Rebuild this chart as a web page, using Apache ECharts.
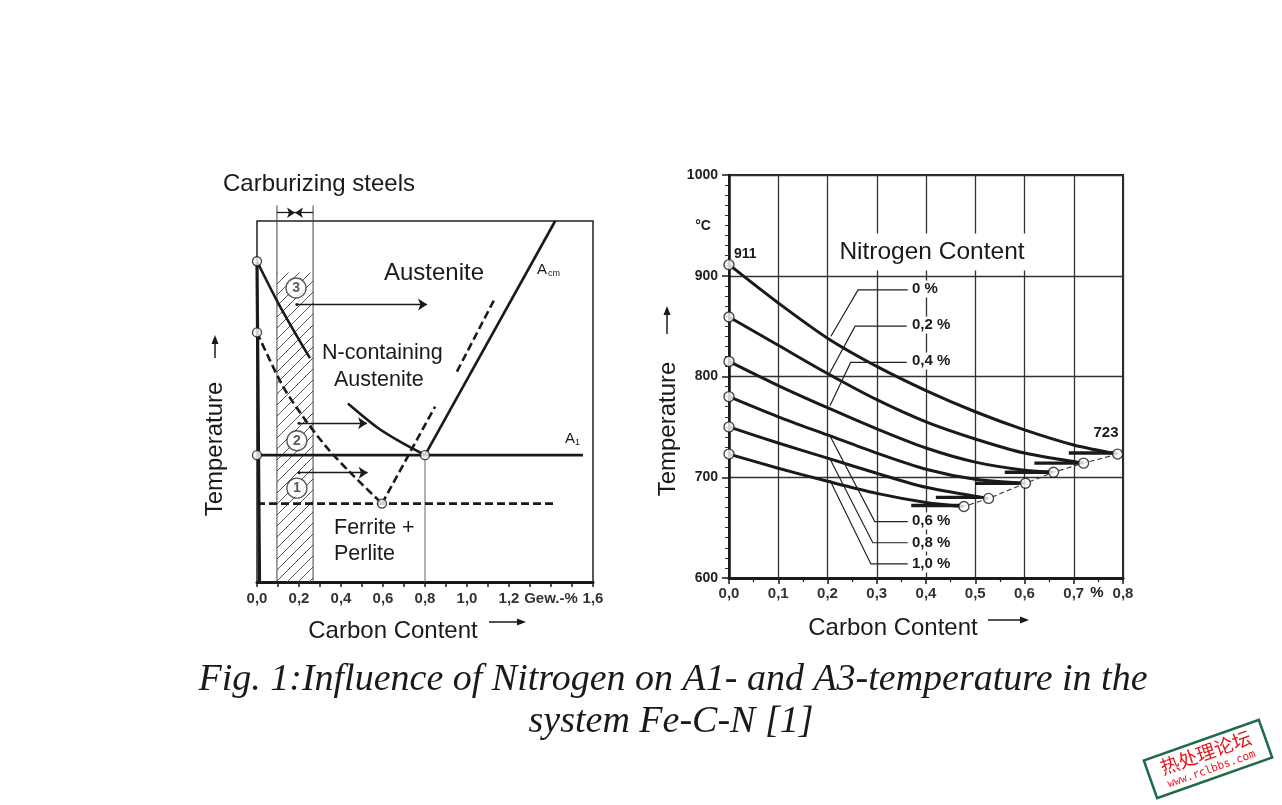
<!DOCTYPE html>
<html><head><meta charset="utf-8">
<script src="https://cdn.jsdelivr.net/npm/echarts@6/dist/echarts.min.js"></script>
<style>html,body{margin:0;padding:0;background:#fff}#c{width:1282px;height:805px}</style>
</head><body><div id="c"></div>
<script>
// ================= LEFT DIAGRAM (schematic Fe-C-N, carbon % vs temperature) =================
const leftXLabels = {0:'0,0',2:'0,2',4:'0,4',6:'0,6',8:'0,8',10:'1,0',12:'1,2',14:'Gew.-%',16:'1,6'};
const ferriteLine = [[0,911],[0.012,600]];
const a3Upper = [[0,911],[0.11,867],[0.252,817]];
const a3Lower = [[0.433,773],[0.571,750],[0.681,736],[0.8,723]];
const a3Nitrogen = [[0,842],[0.12,791],[0.22,760],[0.33,731],[0.44,707],[0.595,676]];
const acmNitrogenLower = [[0.595,676],[0.848,770]];
const acmNitrogenUpper = [[0.952,804],[1.133,875]];
const acmLine = [[0.8,723],[1.42,950]];
const a1Line = [[0,723],[1.552,723]];
const a1Nitrogen = [[0,676],[1.41,676]];
const eutectoidDrop = [[0.8,723],[0.8,600]];
const leftCircles = [[0,911],[0,842],[0,723],[0.8,723],[0.595,676]];
const carburizingRange = [0.095, 0.267];
const hatchTop = 900, rangeLineTop = 965, rangeArrowT = 958;
const numberMarks = [[0.186,885,'3'],[0.19,737,'2'],[0.19,691,'1']];
const shiftArrows = [[[0.19,869],[0.81,869]],[[0.2,754],[0.524,754]],[[0.2,706],[0.527,706]]];

// ================= RIGHT DIAGRAM (A3 / A1 vs nitrogen content) =================
const nitrogenLabels = ['0 %','0,2 %','0,4 %','0,6 %','0,8 %','1,0 %'];
const rightXLabels = ['0,0','0,1','0,2','0,3','0,4','0,5','0,6','0,7','0,8'];
const curveN00 = [[0,911],[0.1,873],[0.2,838],[0.3,810],[0.4,786],[0.5,765],[0.6,747],[0.7,732],[0.789,723]];
const curveN02 = [[0,859],[0.1,831],[0.2,803],[0.3,777],[0.4,755],[0.5,738],[0.6,724],[0.72,714]];
const curveN04 = [[0,815],[0.1,791],[0.2,769],[0.3,748],[0.4,729],[0.5,715],[0.6,707],[0.659,705]];
const curveN06 = [[0,780],[0.1,760],[0.2,742],[0.3,724],[0.4,708],[0.5,698],[0.602,694]];
const curveN08 = [[0,750],[0.1,734],[0.2,719],[0.3,704],[0.4,690],[0.527,679]];
const curveN10 = [[0,723],[0.1,709],[0.2,696],[0.3,684],[0.4,675],[0.477,671]];
const eutectoidPoints = [[0.789,723],[0.72,714],[0.659,705],[0.602,694],[0.527,679],[0.477,671]];
const endBars = [[0.69,0.78,724],[0.62,0.71,714],[0.56,0.65,705],[0.50,0.59,694],[0.42,0.51,680],[0.37,0.47,672]];
const leaderPaths = [
  [[0.363,886],[0.262,886],[0.207,840]],
  [[0.361,850],[0.256,850],[0.203,802]],
  [[0.361,814],[0.247,814],[0.205,771]],
  [[0.363,656],[0.296,656],[0.203,743]],
  [[0.363,635],[0.292,635],[0.203,720]],
  [[0.363,614],[0.288,614],[0.205,697]]
];

// ---------------------------------------------------------------------------
const FONT = '"Liberation Sans", Arial, Helvetica, sans-serif';
const INK = '#1a1a1a';
const curves = [curveN00, curveN02, curveN04, curveN06, curveN08, curveN10];

const pat = document.createElement('canvas');
pat.width = 11; pat.height = 11;
const g = pat.getContext('2d');
g.strokeStyle = '#555'; g.lineWidth = 1;
g.beginPath();
g.moveTo(0,11); g.lineTo(11,0);
g.moveTo(-5.5,5.5); g.lineTo(5.5,-5.5);
g.moveTo(5.5,16.5); g.lineTo(16.5,5.5);
g.stroke();

function L(data, opt) {
  opt = opt || {};
  return {
    type: 'line', xAxisIndex: opt.ax || 0, yAxisIndex: opt.ax || 0, data: data,
    symbol: 'none', smooth: opt.smooth || false, clip: opt.clip !== undefined ? opt.clip : true,
    silent: true, z: opt.z || 3,
    lineStyle: { color: opt.color || INK, width: opt.width || 2.6, type: opt.dash || 'solid' },
    markArea: opt.markArea
  };
}
function txt(x, y, text, font, extra) {
  const st = Object.assign({ text: text, fill: INK, font: font, textAlign: 'center', textVerticalAlign: 'middle', align: 'center', verticalAlign: 'middle' }, (extra && extra.style) || {});
  return Object.assign({ type: 'text', x: x, y: y, z: 100, silent: true }, extra || {}, { style: st });
}
function arrowLine(x1, y1, x2, y2) {
  const dx = x2 - x1, dy = y2 - y1, len = Math.hypot(dx, dy), ux = dx/len, uy = dy/len;
  const hx = x2 - ux*9, hy = y2 - uy*9;
  return [
    { type: 'line', z: 100, silent: true, shape: { x1: x1, y1: y1, x2: hx, y2: hy }, style: { stroke: INK, lineWidth: 1.5 } },
    { type: 'polygon', z: 100, silent: true, shape: { points: [[x2,y2],[hx - uy*3.5, hy + ux*3.5],[hx + uy*3.5, hy - ux*3.5]] }, style: { fill: INK } }
  ];
}

const series = [];
// ---- left diagram series ----
series.push(L([], { markArea: { silent: true, itemStyle: { color: { image: pat, repeat: 'repeat' } },
  data: [[{ coord: [carburizingRange[0], hatchTop] }, { coord: [carburizingRange[1], 600] }]] } }));
series.push(L([[carburizingRange[0], rangeLineTop],[carburizingRange[0], 600]], { width: 1, color: '#444', clip: false }));
series.push(L([[carburizingRange[1], rangeLineTop],[carburizingRange[1], 600]], { width: 1, color: '#444', clip: false }));
series.push(L(eutectoidDrop, { width: 1, color: '#666' }));
series.push(L(ferriteLine, { width: 3.2 }));
series.push(L(a3Upper, { smooth: 0.3 }));
series.push(L(a3Lower, { smooth: 0.3 }));
series.push(L(a3Nitrogen, { smooth: 0.3, dash: [8,4] }));
series.push(L(acmNitrogenLower, { dash: [8,4] }));
series.push(L(acmNitrogenUpper, { dash: [8,4] }));
series.push(L(acmLine));
series.push(L(a1Line));
series.push(L(a1Nitrogen, { dash: [8,4] }));
series.push({ type: 'lines', coordinateSystem: 'cartesian2d', xAxisIndex: 0, yAxisIndex: 0, silent: true, z: 5,
  symbol: ['circle','arrow'], symbolSize: [3, 9], clip: false,
  lineStyle: { color: INK, width: 1.3, opacity: 1 },
  data: shiftArrows.map(function (c) { return { coords: c }; }) });
series.push({ type: 'lines', coordinateSystem: 'cartesian2d', xAxisIndex: 0, yAxisIndex: 0, silent: true, z: 5,
  symbol: ['none','arrow'], symbolSize: 8, clip: false,
  lineStyle: { color: INK, width: 1.3, opacity: 1 },
  data: [{ coords: [[carburizingRange[0], rangeArrowT], [(carburizingRange[0]+carburizingRange[1])/2, rangeArrowT]] },
         { coords: [[carburizingRange[1], rangeArrowT], [(carburizingRange[0]+carburizingRange[1])/2, rangeArrowT]] }] });
series.push({ type: 'scatter', xAxisIndex: 0, yAxisIndex: 0, silent: true, z: 10, symbol: 'circle', symbolSize: 9,
  itemStyle: { color: '#fff', borderColor: INK, borderWidth: 1.4 }, data: leftCircles });
series.push({ type: 'scatter', xAxisIndex: 0, yAxisIndex: 0, silent: true, z: 10, symbol: 'circle', symbolSize: 20,
  itemStyle: { color: '#fff', borderColor: '#333', borderWidth: 1.4 },
  label: { show: true, position: 'inside', formatter: function (p) { return p.data[2]; }, color: '#333', fontSize: 14, fontWeight: 'bold', fontFamily: FONT },
  data: numberMarks });

// ---- right diagram series ----
curves.forEach(function (c) { series.push(L(c, { ax: 1, smooth: 0.3, width: 3 })); });
series.push(L(eutectoidPoints, { ax: 1, width: 1.1, dash: [5,3], color: '#333' }));
endBars.forEach(function (b) { series.push(L([[b[0], b[2]], [b[1], b[2]]], { ax: 1, width: 3.4 })); });
series.push({ type: 'lines', coordinateSystem: 'cartesian2d', xAxisIndex: 1, yAxisIndex: 1, silent: true, z: 6,
  polyline: true, symbol: ['none','arrow'], symbolSize: 7,
  lineStyle: { color: '#222', width: 1.2, opacity: 1 },
  data: leaderPaths.map(function (c) { return { coords: c }; }) });
series.push({ type: 'scatter', xAxisIndex: 1, yAxisIndex: 1, silent: true, z: 10, symbol: 'circle', symbolSize: 10,
  itemStyle: { color: '#fff', borderColor: INK, borderWidth: 1.4 },
  data: curves.map(function (c) { return c[0]; }).concat(eutectoidPoints) });

// ---- texts ----
const graphics = [];
// left
graphics.push(txt(319, 184, 'Carburizing steels', '24px ' + FONT));
graphics.push(txt(434, 273, 'Austenite', '24px ' + FONT));
graphics.push(txt(537, 270, 'A', '15px ' + FONT, { style: { textAlign: 'left', align: 'left' } }));
graphics.push(txt(548, 274, 'cm', '9px ' + FONT, { style: { textAlign: 'left', align: 'left' } }));
graphics.push(txt(322, 353, 'N-containing', '21.5px ' + FONT, { style: { textAlign: 'left', align: 'left' } }));
graphics.push(txt(334, 380, 'Austenite', '21.5px ' + FONT, { style: { textAlign: 'left', align: 'left' } }));
graphics.push(txt(565, 439, 'A', '15px ' + FONT, { style: { textAlign: 'left', align: 'left' } }));
graphics.push(txt(575, 443, '1', '9px ' + FONT, { style: { textAlign: 'left', align: 'left' } }));
graphics.push(txt(334, 528, 'Ferrite +', '21.5px ' + FONT, { style: { textAlign: 'left', align: 'left' } }));
graphics.push(txt(334, 554, 'Perlite', '21.5px ' + FONT, { style: { textAlign: 'left', align: 'left' } }));
graphics.push(txt(215, 449, 'Temperature', '24px ' + FONT, { rotation: Math.PI / 2 }));
arrowLine(215, 358, 215, 335).forEach(function (e) { graphics.push(e); });
graphics.push(txt(393, 631, 'Carbon Content', '24px ' + FONT));
arrowLine(489, 622, 526, 622).forEach(function (e) { graphics.push(e); });
// right
graphics.push(txt(703, 226, '°C', 'bold 14px ' + FONT));
graphics.push(txt(734, 254, '911', 'bold 14px ' + FONT, { style: { textAlign: 'left', align: 'left' } }));
graphics.push(txt(1106, 433, '723', 'bold 15px ' + FONT));
graphics.push(txt(932, 252, 'Nitrogen Content', '24.5px ' + FONT, { style: { backgroundColor: '#fff', padding: [6, 6] } }));
const labelY = [289, 325, 361, 521, 543, 564];
nitrogenLabels.forEach(function (t, i) {
  graphics.push(txt(911, labelY[i], t, 'bold 15px ' + FONT, { style: { textAlign: 'left', align: 'left', backgroundColor: '#fff', padding: [1, 2, 1, 1] } }));
});
graphics.push(txt(1097, 593, '%', 'bold 15px ' + FONT));
graphics.push(txt(668, 429, 'Temperature', '24px ' + FONT, { rotation: Math.PI / 2 }));
arrowLine(667, 334, 667, 306).forEach(function (e) { graphics.push(e); });
graphics.push(txt(893, 628, 'Carbon Content', '24px ' + FONT));
arrowLine(988, 620, 1029, 620).forEach(function (e) { graphics.push(e); });
// caption
graphics.push(txt(673, 680, 'Fig. 1:Influence of Nitrogen on A1- and A3-temperature in the', 'italic 38px "Liberation Serif", "Times New Roman", serif'));
graphics.push(txt(671, 722, 'system Fe-C-N [1]', 'italic 38px "Liberation Serif", "Times New Roman", serif'));
// stamp
graphics.push({ type: 'group', x: 1208, y: 759, rotation: 0.34, z: 100, silent: true, children: [
  { type: 'rect', shape: { x: -61, y: -20, width: 122, height: 40 }, style: { fill: '#fff', stroke: '#1d6b48', lineWidth: 2.5 } },
  { type: 'text', x: 0, y: -7, style: { text: '热处理论坛', font: '19px "Noto Sans CJK SC"', fill: '#e3161f', textAlign: 'center', textVerticalAlign: 'middle', align: 'center', verticalAlign: 'middle' } },
  { type: 'text', x: 0, y: 11, style: { text: 'www.rclbbs.com', font: '11px "DejaVu Sans Mono", monospace', fill: '#e3161f', textAlign: 'center', textVerticalAlign: 'middle', align: 'center', verticalAlign: 'middle' } }
] });

const chart = echarts.init(document.getElementById('c'), null, { renderer: 'canvas' });
chart.setOption({
  animation: false,
  backgroundColor: '#fff',
  grid: [
    { left: 257, top: 221, width: 336, height: 361, show: true, borderColor: '#222', borderWidth: 1.5, backgroundColor: 'transparent' },
    { left: 729, top: 175, width: 394, height: 403, show: true, borderColor: '#222', borderWidth: 2, backgroundColor: 'transparent' }
  ],
  xAxis: [
    { type: 'value', gridIndex: 0, min: 0, max: 1.6, interval: 0.1,
      axisLine: { show: true, lineStyle: { color: INK, width: 3 } },
      axisTick: { show: true, length: 5, lineStyle: { color: INK, width: 1.5 } },
      splitLine: { show: false },
      axisLabel: { margin: 9, color: '#333', fontSize: 15, fontWeight: 'bold', fontFamily: FONT,
        formatter: function (v) { const k = Math.round(v * 10); return leftXLabels[k] !== undefined ? leftXLabels[k] : ''; } } },
    { type: 'value', gridIndex: 1, min: 0, max: 0.8, interval: 0.1,
      axisLine: { show: true, lineStyle: { color: INK, width: 3 } },
      axisTick: { show: true, length: 6, lineStyle: { color: INK, width: 1.5 } },
      minorTick: { show: true, splitNumber: 2, length: 4, lineStyle: { color: INK, width: 1.2 } },
      splitLine: { show: true, lineStyle: { color: '#333', width: 1.3 } },
      axisLabel: { margin: 8, color: '#333', fontSize: 15, fontWeight: 'bold', fontFamily: FONT,
        formatter: function (v) { return rightXLabels[Math.round(v * 10)]; } } }
  ],
  yAxis: [
    { type: 'value', gridIndex: 0, min: 600, max: 950,
      axisLine: { show: false }, axisTick: { show: false }, axisLabel: { show: false }, splitLine: { show: false } },
    { type: 'value', gridIndex: 1, min: 600, max: 1000, interval: 100,
      axisLine: { show: true, lineStyle: { color: INK, width: 2.5 } },
      axisTick: { show: true, length: 7, lineStyle: { color: INK, width: 1.5 } },
      minorTick: { show: true, splitNumber: 10, length: 4, lineStyle: { color: '#333', width: 1 } },
      splitLine: { show: true, lineStyle: { color: '#333', width: 1.3 } },
      axisLabel: { margin: 11, color: '#222', fontSize: 14, fontWeight: 'bold', fontFamily: FONT,
        formatter: function (v) { return String(Math.round(v)); } } }
  ],
  series: series,
  graphic: { elements: graphics }
});
</script>
</body></html>
